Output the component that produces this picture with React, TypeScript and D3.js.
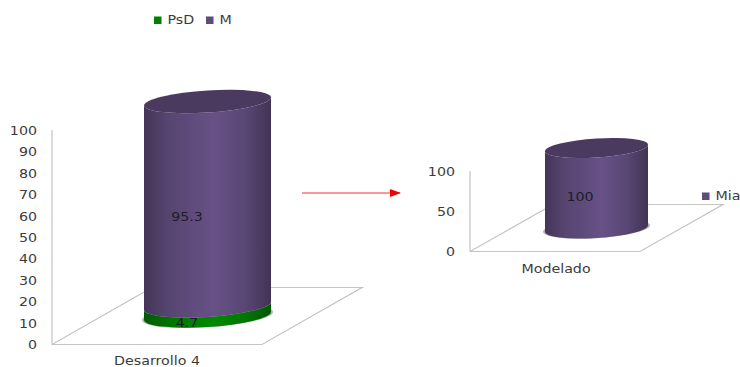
import React from "react";
import * as d3 from "d3";

// Left panel: stacked percentages for one category
const leftCategory = "Desarrollo 4";
const leftSeries = ["PsD", "M"];
const leftValues = [4.7, 95.3];
const leftTicks = [0, 10, 20, 30, 40, 50, 60, 70, 80, 90, 100];

// Right panel: a single series
const rightCategory = "Modelado";
const rightSeries = ["Mia"];
const rightValues = [100];
const rightTicks = [0, 50, 100];

const seriesColors: Record<string, string> = { PsD: "#008000", M: "#5f4b7c", Mia: "#5f4b7c" };
const FONT = "'DejaVu Sans', sans-serif";
const TILT_DEG = -3.6;
const TEXT_WIDEN = 1.14;
const TICK_LABEL_DY = 1;

type Anchor = "start" | "middle" | "end";

// Text set slightly wide, anchored at (x, y)
function Label({ x, y, anchor, fill, children }: { x: number; y: number; anchor: Anchor; fill: string; children: React.ReactNode }) {
  return (
    <text
      transform={`translate(${x},${y}) scale(${TEXT_WIDEN},1)`}
      fontSize={12.5}
      fill={fill}
      textAnchor={anchor}
      dominantBaseline="middle"
    >
      {children}
    </text>
  );
}

type PanelProps = {
  id: string;
  category: string;
  series: string[];
  values: number[];
  ticks: number[];
  axisX: number;
  y0: number;
  y100: number;
  floorW: number;
  depthX: number;
  depthY: number;
  cx: number;
  rx: number;
  ry: number;
  baseY: number;
  labelX: number;
  labelDy: number[];
  categoryX: number;
  categoryY: number;
  tickLabelX: number;
};

// One vertical segment of a cylinder, in coordinates local to its axis
function segmentPath(rx: number, ry: number, yBottom: number, yTop: number) {
  return `M${-rx},${yTop}A${rx},${ry} 0 0 0 ${rx},${yTop}L${rx},${yBottom}A${rx},${ry} 0 0 1 ${-rx},${yBottom}Z`;
}

function Panel(p: PanelProps) {
  const y = d3.scaleLinear().domain([0, 100]).range([p.y0, p.y100]);
  const height = (v: number) => p.y0 - y(v);
  const stack = d3.stack<number[]>().keys(p.series.map((_, i) => String(i)))([p.values as any] as any);
  const floorX = p.axisX + p.floorW;
  const backY = p.y0 - p.depthY;
  const topOffset = -height(d3.sum(p.values));
  return (
    <g>
      <g stroke="#c4c4c4" strokeWidth={1.2} fill="none">
        <path d={`M${p.axisX},${p.y100}V${p.y0}H${floorX}L${floorX + p.depthX},${backY}H${p.cx}`} />
        <path d={`M${p.axisX},${p.y0}L${p.axisX + p.depthX},${backY}`} />
      </g>
      <g transform={`translate(${p.cx},${p.baseY}) skewY(${TILT_DEG})`}>
        <ellipse cx={0} cy={0} rx={p.rx + 2} ry={p.ry + 0.3} fill="#444" opacity={0.4} />
        {stack.map((layer, i) => (
          <path
            key={i}
            d={segmentPath(p.rx, p.ry, -height(layer[0][0]), -height(layer[0][1]))}
            fill={`url(#${p.id}-${p.series[i]})`}
          />
        ))}
        <ellipse cx={0} cy={topOffset} rx={p.rx} ry={p.ry} fill="#4a3a5f" />
      </g>
      {stack.map((layer, i) => (
        <Label
          key={i}
          x={p.labelX}
          y={p.baseY - height((layer[0][0] + layer[0][1]) / 2) + p.labelDy[i]}
          anchor="middle"
          fill="#1c1c28"
        >
          {p.values[i]}
        </Label>
      ))}
      {p.ticks.map((t) => (
        <Label key={t} x={p.tickLabelX} y={y(t) + TICK_LABEL_DY} anchor="end" fill="#3c3c3c">
          {t}
        </Label>
      ))}
      <Label x={p.categoryX} y={p.categoryY} anchor="middle" fill="#3c3c3c">
        {p.category}
      </Label>
    </g>
  );
}

function Gradient({ id, color }: { id: string; color: string }) {
  const base = d3.rgb(color);
  return (
    <linearGradient id={id} x1="0" x2="1" y1="0" y2="0">
      <stop offset="0" stopColor={base.darker(0.95).formatHex()} />
      <stop offset="0.2" stopColor={base.darker(0.25).formatHex()} />
      <stop offset="0.55" stopColor={base.brighter(0.22).formatHex()} />
      <stop offset="0.8" stopColor={base.darker(0.2).formatHex()} />
      <stop offset="1" stopColor={base.darker(1.05).formatHex()} />
    </linearGradient>
  );
}

function LegendItem({ x, y, label }: { x: number; y: number; label: string }) {
  return (
    <g>
      <rect x={x} y={y - 3.5} width={7.5} height={7.5} fill={seriesColors[label]} />
      <Label x={x + 13.5} y={y} anchor="start" fill="#3c3c3c">
        {label}
      </Label>
    </g>
  );
}

export default function App() {
  return (
    <svg
      width={740}
      height={367}
      viewBox="0 0 740 367"
      style={{ position: "absolute", left: 0, top: 0, fontFamily: FONT }}
    >
      <defs>
        <Gradient id="left-PsD" color={seriesColors.PsD} />
        <Gradient id="left-M" color={seriesColors.M} />
        <Gradient id="right-Mia" color={seriesColors.Mia} />
        <marker id="arrow" markerWidth={11} markerHeight={8} refX={10} refY={4} orient="auto" markerUnits="userSpaceOnUse">
          <path d="M0,0L11,4L0,8Z" fill="#f00000" />
        </marker>
      </defs>

      <Panel
        id="left"
        category={leftCategory}
        series={leftSeries}
        values={leftValues}
        ticks={leftTicks}
        axisX={52}
        y0={344.5}
        y100={130}
        floorW={210}
        depthX={100}
        depthY={57}
        cx={207.5}
        rx={63.5}
        ry={11}
        baseY={316}
        labelX={187}
        labelDy={[12, 14]}
        categoryX={157}
        categoryY={361}
        tickLabelX={37}
      />
      <Panel
        id="right"
        category={rightCategory}
        series={rightSeries}
        values={rightValues}
        ticks={rightTicks}
        axisX={470}
        y0={251.5}
        y100={171}
        floorW={170}
        depthX={83}
        depthY={47}
        cx={596.5}
        rx={51.5}
        ry={9.5}
        baseY={228.5}
        labelX={580}
        labelDy={[9]}
        categoryX={556}
        categoryY={269}
        tickLabelX={455}
      />

      <line x1={302} y1={193} x2={400} y2={193} stroke="#f03030" strokeWidth={1} markerEnd="url(#arrow)" />

      <LegendItem x={154} y={20} label="PsD" />
      <LegendItem x={206} y={20} label="M" />
      <LegendItem x={702} y={196} label="Mia" />
    </svg>
  );
}
